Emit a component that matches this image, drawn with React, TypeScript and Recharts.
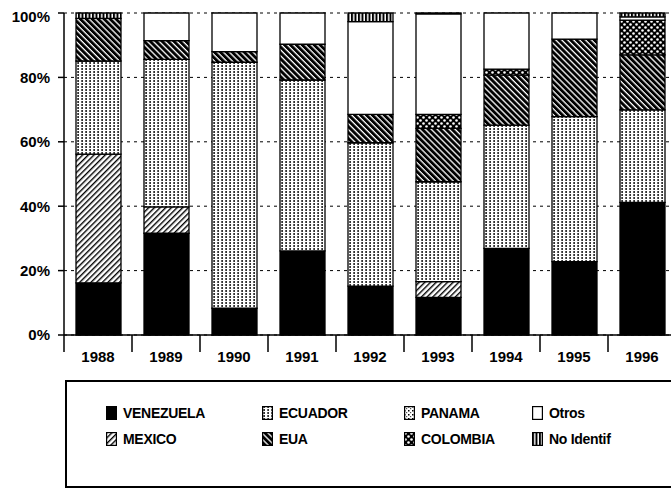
import React from 'react';
import { BarChart, Bar, XAxis, YAxis, CartesianGrid } from 'recharts';

// Share (%) by origin, per year
const YEARS = ['1988', '1989', '1990', '1991', '1992', '1993', '1994', '1995', '1996'];
const VENEZUELA = [16.2, 31.6, 8.3, 26.1, 15.2, 11.7, 26.9, 22.8, 41.2];
const MEXICO = [40.0, 8.2, 0, 0, 0, 4.9, 0, 0, 0];
const ECUADOR = [28.9, 45.8, 76.4, 53.1, 44.5, 31.0, 38.3, 45.0, 28.7];
const EUA = [13.2, 5.8, 3.3, 11.1, 8.8, 16.6, 15.5, 24.1, 17.1];
const PANAMA = [0, 0, 0, 0, 0, 0, 0, 0, 0];
const COLOMBIA = [0, 0, 0, 0, 0, 4.3, 1.9, 0, 10.8];
const OTROS = [0, 8.6, 12.0, 9.7, 28.8, 31.2, 17.4, 8.1, 1.0];
const NO_IDENTIF = [1.7, 0, 0, 0, 2.7, 0.3, 0, 0, 1.2];
const Y_TICKS = [0, 20, 40, 60, 80, 100];

const SERIES = [
  { key: 'venezuela', name: 'VENEZUELA', values: VENEZUELA, fill: '#000' },
  { key: 'mexico', name: 'MEXICO', values: MEXICO, fill: 'url(#p-mexico)' },
  { key: 'ecuador', name: 'ECUADOR', values: ECUADOR, fill: 'url(#p-ecuador)' },
  { key: 'eua', name: 'EUA', values: EUA, fill: 'url(#p-eua)' },
  { key: 'panama', name: 'PANAMA', values: PANAMA, fill: 'url(#p-panama)' },
  { key: 'colombia', name: 'COLOMBIA', values: COLOMBIA, fill: 'url(#p-colombia)' },
  { key: 'otros', name: 'Otros', values: OTROS, fill: '#fff' },
  { key: 'noIdentif', name: 'No Identif', values: NO_IDENTIF, fill: 'url(#p-noident)' },
];

// legend reads across rows
const LEGEND_ROWS = [
  ['venezuela', 'ecuador', 'panama', 'otros'],
  ['mexico', 'eua', 'colombia', 'noIdentif'],
];

const data = YEARS.map((year, i) => {
  const row: Record<string, string | number> = { year };
  SERIES.forEach((s) => {
    row[s.key] = s.values[i];
  });
  return row;
});

const FONT = '"Liberation Sans", Arial, sans-serif';
const CHART_W = 668;
const CHART_H = 484;
const Y_AXIS_W = 56;
const BAND = (CHART_W - Y_AXIS_W) / YEARS.length;

function Patterns() {
  return (
    <svg width={0} height={0} style={{ position: 'absolute' }}>
      <defs>
        <pattern id="p-mexico" width={4} height={4} patternUnits="userSpaceOnUse" patternTransform="rotate(45)">
          <rect width={4} height={4} fill="#fff" />
          <rect width={1.4} height={4} fill="#000" />
        </pattern>
        <pattern id="p-eua" width={4.2} height={4.2} patternUnits="userSpaceOnUse" patternTransform="rotate(-45)">
          <rect width={4.2} height={4.2} fill="#fff" />
          <rect width={2.9} height={4.2} fill="#000" />
        </pattern>
        <pattern id="p-ecuador" width={4} height={3} patternUnits="userSpaceOnUse">
          <rect width={4} height={3} fill="#fff" />
          <rect x={1.4} y={0} width={1.4} height={2} fill="#000" />
        </pattern>
        <pattern id="p-panama" width={4} height={4} patternUnits="userSpaceOnUse">
          <rect width={4} height={4} fill="#fff" />
          <rect x={0} y={0} width={1.5} height={1.5} fill="#000" />
          <rect x={2} y={2} width={1.2} height={1.2} fill="#555" />
        </pattern>
        <pattern id="p-colombia" width={6} height={6} patternUnits="userSpaceOnUse">
          <rect width={6} height={6} fill="#000" />
          <circle cx={1.5} cy={1.5} r={1.3} fill="#fff" />
          <circle cx={4.5} cy={4.5} r={1.3} fill="#fff" />
        </pattern>
        <pattern id="p-noident" width={3.5} height={4} patternUnits="userSpaceOnUse">
          <rect width={3.5} height={4} fill="#fff" />
          <rect width={2} height={4} fill="#000" />
        </pattern>
      </defs>
    </svg>
  );
}

function YearTick(props: any) {
  const { x, y, payload } = props;
  const left = x - BAND / 2;
  return (
    <g>
      <line x1={left} x2={left} y1={y} y2={y + 17} stroke="#000" strokeWidth={1.5} />
      <text
        x={x}
        y={y + 21}
        textAnchor="middle"
        dominantBaseline="central"
        fontFamily={FONT}
        fontWeight="bold"
        fontSize={15}
        fill="#000"
      >
        {payload.value}
      </text>
    </g>
  );
}

function LegendBox() {
  // icon left edges / row centres, relative to the box
  const colX = [41, 197, 339, 467];
  const rowY = [33, 59];
  return (
    <div
      style={{
        position: 'absolute',
        left: 57,
        top: 372,
        width: 640,
        height: 108,
        border: '2px solid #000',
        boxSizing: 'border-box',
        fontFamily: FONT,
      }}
    >
      {LEGEND_ROWS.map((row, r) =>
        row.map((key, c) => {
          const s = SERIES.find((item) => item.key === key)!;
          return (
            <div
              key={key}
              style={{
                position: 'absolute',
                left: colX[c] - 2,
                top: rowY[r] - 2 - 7,
                display: 'flex',
                alignItems: 'center',
                height: 14,
              }}
            >
              <svg width={11} height={14}>
                <rect x={0.6} y={0.6} width={9.8} height={12.8} fill={s.fill} stroke="#000" strokeWidth={1.2} />
              </svg>
              <span style={{ marginLeft: 6, fontSize: 14, fontWeight: 'bold', letterSpacing: -0.3, color: '#000' }}>
                {s.name}
              </span>
            </div>
          );
        })
      )}
    </div>
  );
}

export default function App() {
  return (
    <div
      style={{
        position: 'absolute',
        left: 8,
        top: 8,
        width: 663,
        height: 484,
        overflow: 'hidden',
        background: '#fff',
      }}
    >
      <Patterns />
      <BarChart
        width={CHART_W}
        height={CHART_H}
        data={data}
        margin={{ top: 5, right: 0, left: 0, bottom: 127 }}
        barSize={45}
      >
        <CartesianGrid vertical={false} stroke="#000" strokeDasharray="3 4" strokeWidth={1} />
        <XAxis
          dataKey="year"
          height={30}
          tickLine={false}
          tickSize={0}
          tickMargin={0}
          axisLine={{ stroke: '#000', strokeWidth: 1.5 }}
          tick={<YearTick />}
          interval={0}
        />
        <YAxis
          width={Y_AXIS_W}
          domain={[0, 100]}
          ticks={Y_TICKS}
          tickFormatter={(v: number) => `${v}%`}
          axisLine={{ stroke: '#000', strokeWidth: 1.5 }}
          tickLine={{ stroke: '#000', strokeWidth: 1.5 }}
          tickSize={6}
          tickMargin={8}
          tick={{ fill: '#000', fontFamily: FONT, fontWeight: 'bold', fontSize: 15 }}
        />
        {SERIES.map((s) => (
          <Bar
            key={s.key}
            dataKey={s.key}
            name={s.name}
            stackId="a"
            fill={s.fill}
            stroke="#000"
            strokeWidth={1.3}
            isAnimationActive={false}
          />
        ))}
      </BarChart>
      <LegendBox />
    </div>
  );
}
